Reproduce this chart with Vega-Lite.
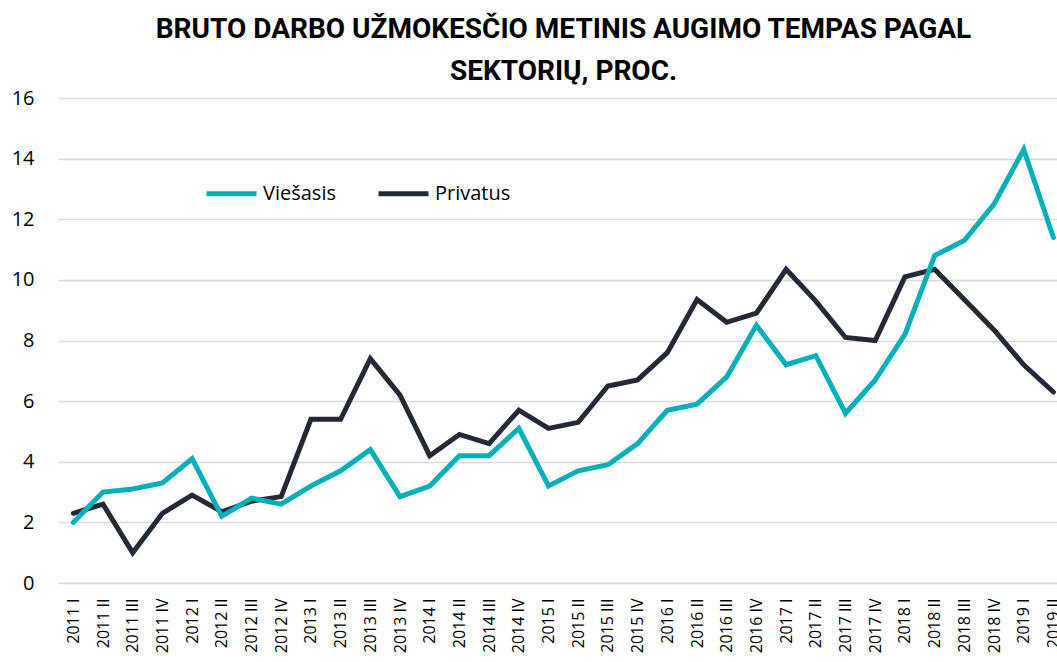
{
  "$schema": "https://vega.github.io/schema/vega-lite/v6.json",
  "autosize": "none",
  "width": 999,
  "height": 485,
  "padding": {"left": 58, "top": 98, "right": 0, "bottom": 79},
  "background": "white",
  "title": {
    "text": ["BRUTO DARBO UŽMOKESČIO METINIS AUGIMO TEMPAS PAGAL", "SEKTORIŲ, PROC."],
    "font": "Roboto",
    "fontSize": 28,
    "fontWeight": "bold",
    "color": "#000000",
    "lineHeight": 42,
    "anchor": "middle",
    "frame": "group",
    "dx": 6,
    "offset": 2
  },
  "data": {
    "values": [
      {"q": "2011 I", "s": "Privatus", "v": 2.3},
      {"q": "2011 II", "s": "Privatus", "v": 2.6},
      {"q": "2011 III", "s": "Privatus", "v": 1.0},
      {"q": "2011 IV", "s": "Privatus", "v": 2.3},
      {"q": "2012 I", "s": "Privatus", "v": 2.9},
      {"q": "2012 II", "s": "Privatus", "v": 2.35},
      {"q": "2012 III", "s": "Privatus", "v": 2.7},
      {"q": "2012 IV", "s": "Privatus", "v": 2.85},
      {"q": "2013 I", "s": "Privatus", "v": 5.4},
      {"q": "2013 II", "s": "Privatus", "v": 5.4},
      {"q": "2013 III", "s": "Privatus", "v": 7.4},
      {"q": "2013 IV", "s": "Privatus", "v": 6.2},
      {"q": "2014 I", "s": "Privatus", "v": 4.2},
      {"q": "2014 II", "s": "Privatus", "v": 4.9},
      {"q": "2014 III", "s": "Privatus", "v": 4.6},
      {"q": "2014 IV", "s": "Privatus", "v": 5.7},
      {"q": "2015 I", "s": "Privatus", "v": 5.1},
      {"q": "2015 II", "s": "Privatus", "v": 5.3},
      {"q": "2015 III", "s": "Privatus", "v": 6.5},
      {"q": "2015 IV", "s": "Privatus", "v": 6.7},
      {"q": "2016 I", "s": "Privatus", "v": 7.6},
      {"q": "2016 II", "s": "Privatus", "v": 9.35},
      {"q": "2016 III", "s": "Privatus", "v": 8.6},
      {"q": "2016 IV", "s": "Privatus", "v": 8.9},
      {"q": "2017 I", "s": "Privatus", "v": 10.35},
      {"q": "2017 II", "s": "Privatus", "v": 9.3},
      {"q": "2017 III", "s": "Privatus", "v": 8.1},
      {"q": "2017 IV", "s": "Privatus", "v": 8.0},
      {"q": "2018 I", "s": "Privatus", "v": 10.1},
      {"q": "2018 II", "s": "Privatus", "v": 10.35},
      {"q": "2018 III", "s": "Privatus", "v": 9.35},
      {"q": "2018 IV", "s": "Privatus", "v": 8.35},
      {"q": "2019 I", "s": "Privatus", "v": 7.2},
      {"q": "2019 II", "s": "Privatus", "v": 6.3},
      {"q": "2011 I", "s": "Viešasis", "v": 2.0},
      {"q": "2011 II", "s": "Viešasis", "v": 3.0},
      {"q": "2011 III", "s": "Viešasis", "v": 3.1},
      {"q": "2011 IV", "s": "Viešasis", "v": 3.3},
      {"q": "2012 I", "s": "Viešasis", "v": 4.1},
      {"q": "2012 II", "s": "Viešasis", "v": 2.2},
      {"q": "2012 III", "s": "Viešasis", "v": 2.8},
      {"q": "2012 IV", "s": "Viešasis", "v": 2.6},
      {"q": "2013 I", "s": "Viešasis", "v": 3.2},
      {"q": "2013 II", "s": "Viešasis", "v": 3.7},
      {"q": "2013 III", "s": "Viešasis", "v": 4.4},
      {"q": "2013 IV", "s": "Viešasis", "v": 2.85},
      {"q": "2014 I", "s": "Viešasis", "v": 3.2},
      {"q": "2014 II", "s": "Viešasis", "v": 4.2},
      {"q": "2014 III", "s": "Viešasis", "v": 4.2},
      {"q": "2014 IV", "s": "Viešasis", "v": 5.1},
      {"q": "2015 I", "s": "Viešasis", "v": 3.2},
      {"q": "2015 II", "s": "Viešasis", "v": 3.7},
      {"q": "2015 III", "s": "Viešasis", "v": 3.9},
      {"q": "2015 IV", "s": "Viešasis", "v": 4.6},
      {"q": "2016 I", "s": "Viešasis", "v": 5.7},
      {"q": "2016 II", "s": "Viešasis", "v": 5.9},
      {"q": "2016 III", "s": "Viešasis", "v": 6.8},
      {"q": "2016 IV", "s": "Viešasis", "v": 8.5},
      {"q": "2017 I", "s": "Viešasis", "v": 7.2},
      {"q": "2017 II", "s": "Viešasis", "v": 7.5},
      {"q": "2017 III", "s": "Viešasis", "v": 5.6},
      {"q": "2017 IV", "s": "Viešasis", "v": 6.7},
      {"q": "2018 I", "s": "Viešasis", "v": 8.2},
      {"q": "2018 II", "s": "Viešasis", "v": 10.8},
      {"q": "2018 III", "s": "Viešasis", "v": 11.3},
      {"q": "2018 IV", "s": "Viešasis", "v": 12.5},
      {"q": "2019 I", "s": "Viešasis", "v": 14.3},
      {"q": "2019 II", "s": "Viešasis", "v": 11.4}
    ]
  },
  "mark": {"type": "line", "strokeWidth": 5, "strokeCap": "round", "strokeJoin": "miter"},
  "encoding": {
    "x": {
      "field": "q",
      "type": "ordinal",
      "sort": null,
      "scale": {"type": "point", "padding": 0.318, "align": 0.81},
      "axis": {
        "title": null,
        "labelAngle": -90,
        "labelFont": "Open Sans",
        "labelFontSize": 16,
        "labelColor": "#000000",
        "labelPadding": 15,
        "ticks": false,
        "domain": false,
        "grid": false
      }
    },
    "y": {
      "field": "v",
      "type": "quantitative",
      "scale": {"domain": [0, 16], "nice": false},
      "axis": {
        "title": null,
        "values": [0, 2, 4, 6, 8, 10, 12, 14, 16],
        "labelFont": "Open Sans",
        "labelFontSize": 20,
        "labelColor": "#000000",
        "labelPadding": 24,
        "ticks": false,
        "domain": false,
        "grid": true,
        "gridColor": "#D9D9D9",
        "gridWidth": 1.5
      }
    },
    "color": {
      "field": "s",
      "type": "nominal",
      "scale": {"domain": ["Viešasis", "Privatus"], "range": ["#00B0B9", "#232A35"]},
      "legend": {
        "title": null,
        "orient": "none",
        "direction": "horizontal",
        "legendX": 146,
        "legendY": 68,
        "padding": 0,
        "symbolType": "stroke",
        "symbolSize": 2500,
        "symbolStrokeWidth": 5,
        "labelFont": "Open Sans",
        "labelFontSize": 20,
        "labelColor": "#000000",
        "labelOffset": 4,
        "columnPadding": 32
      }
    }
  },
  "config": {"view": {"stroke": null}}
}
